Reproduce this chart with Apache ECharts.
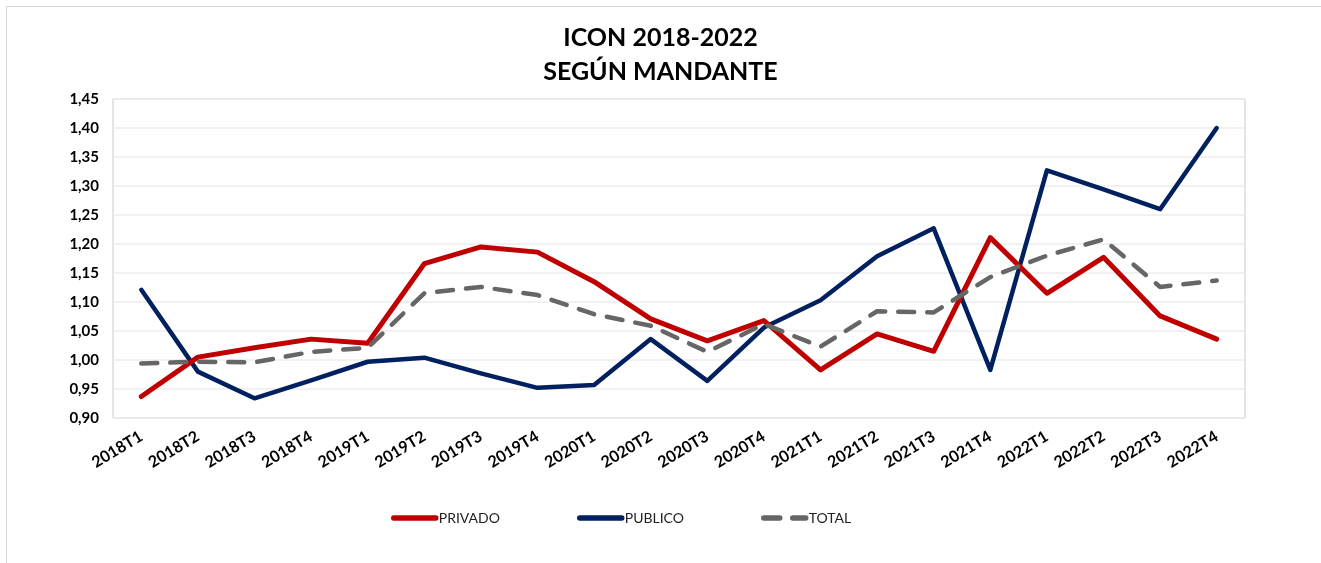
<!DOCTYPE html>
<html lang="es">
<head>
<meta charset="UTF-8">
<title>ICON 2018-2022</title>
<script src="https://cdn.jsdelivr.net/npm/echarts@6/dist/echarts.min.js"></script>
<style>
    * { padding: 0; margin: 0; }
    html, body { width: 100%; height: 100%; background: #fff; }
    #frame {
        position: absolute; left: 6px; top: 6px; right: 0; bottom: 0;
        border-left: 1px solid #d9d9d9; border-top: 1px solid #d9d9d9;
    }
    #chart { position: absolute; left: 0; top: 0; width: 1321px; height: 563px; }
</style>
</head>
<body>
<div id="frame"></div>
<div id="chart"></div>
<script>
    let categorias = ['2018T1', '2018T2', '2018T3', '2018T4', '2019T1', '2019T2', '2019T3', '2019T4',
        '2020T1', '2020T2', '2020T3', '2020T4', '2021T1', '2021T2', '2021T3', '2021T4',
        '2022T1', '2022T2', '2022T3', '2022T4'];
    let privado = [0.937, 1.005, 1.021, 1.036, 1.029, 1.166, 1.195, 1.186, 1.135, 1.071,
        1.033, 1.068, 0.983, 1.045, 1.015, 1.211, 1.115, 1.177, 1.076, 1.036];
    let publico = [1.121, 0.980, 0.934, 0.965, 0.997, 1.004, 0.977, 0.952, 0.957, 1.036,
        0.964, 1.056, 1.103, 1.179, 1.227, 0.983, 1.327, 1.294, 1.260, 1.400];
    let total = [0.994, 0.997, 0.996, 1.014, 1.021, 1.115, 1.126, 1.112, 1.079, 1.059,
        1.014, 1.062, 1.023, 1.084, 1.082, 1.143, 1.180, 1.208, 1.126, 1.137];

    var myChart = echarts.init(document.getElementById('chart'));
    const fuente = 'Lato, "Open Sans", sans-serif';

    // una leyenda por serie para fijar la posicion de cada una
    function leyenda(nombre, x) {
        return {
            data: [nombre],
            left: x,
            top: 506,
            itemWidth: 42,
            itemHeight: 14,
            itemGap: 0,
            itemStyle: { opacity: 0 },
            lineStyle: { width: 5.5, cap: 'round' },
            textStyle: { fontFamily: fuente, fontSize: 14, color: '#222', padding: [0, 0, 0, -2] }
        };
    }

    option = {
        animation: false,
        title: {
            text: 'ICON 2018-2022\nSEGÚN MANDANTE',
            left: 'center',
            top: 16,
            textStyle: {
                fontFamily: fuente,
                fontWeight: 'bold',
                fontSize: 25,
                lineHeight: 34,
                color: '#000'
            }
        },
        legend: [
            leyenda('PRIVADO', 386),
            leyenda('PUBLICO', 572),
            leyenda('TOTAL', 756)
        ],
        grid: {
            left: 113,
            right: 76,
            top: 99,
            bottom: 145,
            show: true,
            borderColor: '#c8c8c8',
            borderWidth: 1
        },
        xAxis: {
            type: 'category',
            data: categorias,
            boundaryGap: true,
            axisLine: { show: false },
            axisTick: { show: false },
            axisLabel: {
                rotate: 31,
                margin: 17,
                interval: 0,
                fontFamily: fuente,
                fontWeight: 'bold',
                fontSize: 16,
                color: '#000'
            }
        },
        yAxis: {
            type: 'value',
            min: 0.9,
            max: 1.45,
            interval: 0.05,
            axisLine: { show: false },
            axisTick: { show: false },
            splitLine: { lineStyle: { color: '#ececec', width: 1.5 } },
            axisLabel: {
                margin: 14,
                fontFamily: fuente,
                fontWeight: 'bold',
                fontSize: 15,
                color: '#000',
                formatter: function (v) { return v.toFixed(2).replace('.', ','); }
            }
        },
        series: [
            {
                name: 'PRIVADO',
                type: 'line',
                data: privado,
                symbol: 'none',
                z: 3,
                itemStyle: { color: '#c00000' },
                lineStyle: { color: '#c00000', width: 5, cap: 'round', join: 'round' }
            },
            {
                name: 'PUBLICO',
                type: 'line',
                data: publico,
                symbol: 'none',
                z: 2,
                itemStyle: { color: '#002060' },
                lineStyle: { color: '#002060', width: 4.5, cap: 'round', join: 'round' }
            },
            {
                name: 'TOTAL',
                type: 'line',
                data: total,
                symbol: 'none',
                z: 4,
                itemStyle: { color: '#666666' },
                lineStyle: { color: '#666666', width: 4.5, type: [16, 13], cap: 'round' }
            }
        ]
    };
    myChart.setOption(option);
</script>
</body>
</html>
